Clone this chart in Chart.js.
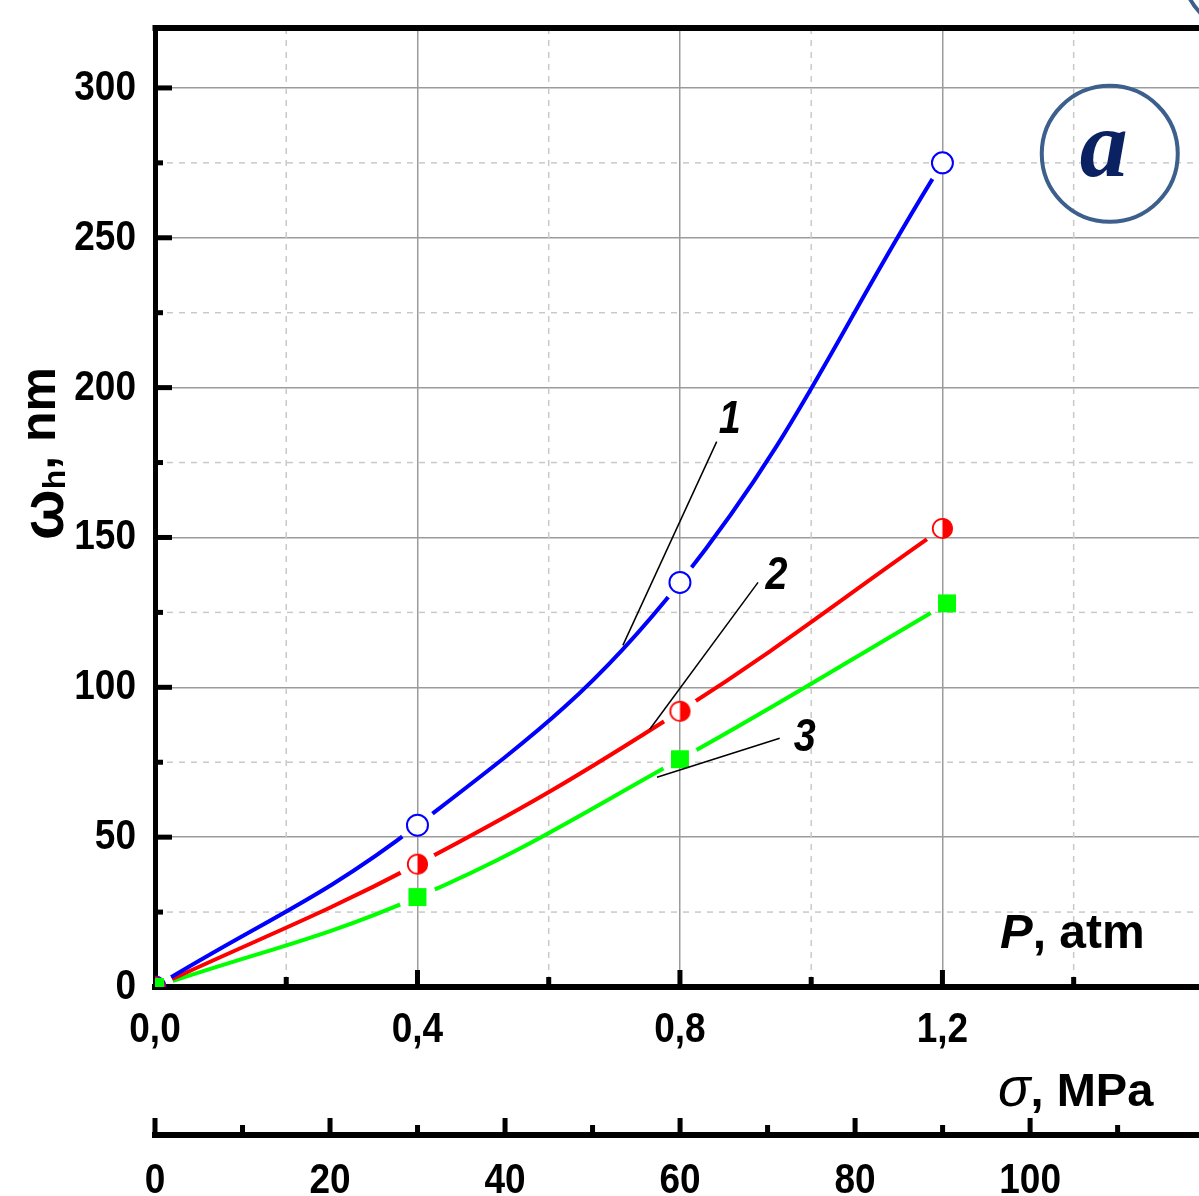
<!DOCTYPE html>
<html>
<head>
<meta charset="utf-8">
<script src="https://cdn.jsdelivr.net/npm/chart.js@4.4.1/dist/chart.umd.min.js"></script>
<style>
  html, body { margin: 0; padding: 0; background: #fff; overflow: hidden; }
  canvas { display: block; }
</style>
</head>
<body>
<canvas id="omegaChart" width="1199" height="1196"></canvas>
<script>
// measured points (sigma in MPa, omega_h in nm)
const sigma = [0, 0.4, 0.8, 1.2];
const sigmaSquares = [0, 0.4, 0.8, 1.207];
const omega1 = [0, 54, 135, 275];
const omega2 = [0, 41, 92, 153];
const omega3 = [0, 30, 76, 128];

// axis ranges and labelled ticks
const sigmaMax = 1.591;
const omegaMax = 320;
const pressureMax = 119.3;
const sigmaLabelled = [0, 0.4, 0.8, 1.2];
const omegaLabelled = [0, 50, 100, 150, 200, 250, 300];
const pressureLabelled = [0, 20, 40, 60, 80, 100];

const TEXT_FONT = "'Liberation Sans', Arial, sans-serif";
const NARROW = 0.86; // tick labels are a condensed face

const near = (list, v) => list.some(t => Math.abs(t - v) < 1e-6);
const onStep = (v, step) => Math.abs(v / step - Math.round(v / step)) < 1e-6;
const pts = (xs, ys) => xs.map((x, i) => ({ x: x, y: ys[i] }));

// half filled circle marker for curve 2
function halfDot(r, color) {
    const c = document.createElement('canvas');
    const s = Math.ceil(2 * r + 4);
    c.width = c.height = s;
    const g = c.getContext('2d');
    const m = s / 2;
    g.beginPath(); g.arc(m, m, r, 0, 2 * Math.PI); g.fillStyle = '#fff'; g.fill();
    g.beginPath(); g.arc(m, m, r, -Math.PI / 2, Math.PI / 2); g.closePath();
    g.fillStyle = color; g.fill();
    g.beginPath(); g.arc(m, m, r - 0.5, 0, 2 * Math.PI);
    g.lineWidth = 1.8; g.strokeStyle = color; g.stroke();
    return c;
}

const GAP = 19; // line stops short of each symbol

const markers1 = pts(sigma, omega1);
const markers2 = pts(sigma, omega2);
const markers3 = pts(sigmaSquares, omega3);

// leader lines from curve numbers to curves
const leaders = [
    { text: '1', from: [0.856, 182], to: [0.713, 114], at: [0.876, 189] },
    { text: '2', from: [0.919, 135], to: [0.754, 86], at: [0.947, 137] },
    { text: '3', from: [0.952, 83], to: [0.765, 70], at: [0.990, 83] }
];

const gapPlugin = {
    id: 'gapPlugin',
    beforeDatasetDraw(chart, args) {
        const ds = chart.data.datasets[args.index];
        if (!ds.gapPoints) return;
        const { ctx, scales } = chart;
        ctx.save();
        ctx.beginPath();
        ctx.rect(0, 0, chart.width, chart.height);
        ds.gapPoints.forEach(p => {
            const x = scales.x.getPixelForValue(p.x);
            const y = scales.y.getPixelForValue(p.y);
            ctx.moveTo(x + GAP, y);
            ctx.arc(x, y, GAP, 0, 2 * Math.PI);
        });
        ctx.clip('evenodd');
    },
    afterDatasetDraw(chart, args) {
        const ds = chart.data.datasets[args.index];
        if (ds.gapPoints) chart.ctx.restore();
    }
};

const inSigma = v => v > 0 && v < sigmaMax && onStep(v, 0.2);
const isMajorSigma = v => inSigma(v) && onStep(v, 0.4);
const inOmega = v => v > 0 && v < omegaMax && onStep(v, 25);

const decorPlugin = {
    id: 'decorPlugin',
    beforeDatasetsDraw(chart) {
        const { ctx, chartArea: a, scales } = chart;
        ctx.save();
        ctx.strokeStyle = '#c9c9c9';
        ctx.lineWidth = 1.5;
        ctx.setLineDash([6, 6]);
        scales.x.ticks.forEach(t => {
            if (!inSigma(t.value) || isMajorSigma(t.value)) return;
            const x = scales.x.getPixelForValue(t.value);
            ctx.beginPath(); ctx.moveTo(x, a.top); ctx.lineTo(x, a.bottom); ctx.stroke();
        });
        scales.y.ticks.forEach(t => {
            if (!inOmega(t.value) || onStep(t.value, 50)) return;
            const y = scales.y.getPixelForValue(t.value);
            ctx.beginPath(); ctx.moveTo(a.left, y); ctx.lineTo(a.right, y); ctx.stroke();
        });
        ctx.restore();
    },
    afterDatasetsDraw(chart) {
        const { ctx, scales } = chart;
        const px = v => scales.x.getPixelForValue(v);
        const py = v => scales.y.getPixelForValue(v);
        ctx.save();
        ctx.strokeStyle = '#000';
        ctx.lineWidth = 1.5;
        ctx.fillStyle = '#000';
        ctx.font = "italic bold 46px " + TEXT_FONT;
        ctx.textAlign = 'center';
        ctx.textBaseline = 'middle';
        leaders.forEach(l => {
            ctx.beginPath();
            ctx.moveTo(px(l.from[0]), py(l.from[1]));
            ctx.lineTo(px(l.to[0]), py(l.to[1]));
            ctx.stroke();
            ctx.save();
            ctx.translate(px(l.at[0]), py(l.at[1]));
            ctx.scale(NARROW, 1);
            ctx.fillText(l.text, 0, 0);
            ctx.restore();
        });
        ctx.restore();
    },
    afterDraw(chart) {
        const { ctx, chartArea: a, scales } = chart;
        const px = v => scales.x.getPixelForValue(v);
        const py = v => scales.y.getPixelForValue(v);
        const x2 = scales.x2;
        ctx.save();
        ctx.fillStyle = '#000';
        // top frame line
        ctx.fillRect(a.left - 2.5, a.top - 3, a.right - a.left + 3, 6);

        // inward tick marks
        scales.x.ticks.forEach(t => {
            if (!inSigma(t.value)) return;
            const len = isMajorSigma(t.value) ? 17 : 10;
            ctx.fillRect(px(t.value) - 2.5, a.bottom - len, 5, len);
        });
        scales.y.ticks.forEach(t => {
            if (!inOmega(t.value)) return;
            const len = onStep(t.value, 50) ? 17 : 8;
            ctx.fillRect(a.left, py(t.value) - 2.5, len, 5);
        });
        x2.ticks.forEach(t => {
            if (!onStep(t.value, 10) || t.value > pressureMax) return;
            const len = onStep(t.value, 20) ? 17 : 10;
            ctx.fillRect(x2.getPixelForValue(t.value) - 2.5, x2.top - len, 5, len);
        });

        // tick labels, condensed bold
        ctx.font = "bold 43px " + TEXT_FONT;
        ctx.textBaseline = 'alphabetic';
        const label = (text, x, y, align) => {
            ctx.save();
            ctx.translate(x, y);
            ctx.scale(NARROW, 1);
            ctx.textAlign = align;
            ctx.fillText(text, 0, 0);
            ctx.restore();
        };
        scales.x.ticks.forEach(t => {
            if (near(sigmaLabelled, t.value)) label(t.value.toFixed(1).replace('.', ','), px(t.value), a.bottom + 55, 'center');
        });
        scales.y.ticks.forEach(t => {
            if (near(omegaLabelled, t.value)) label(String(t.value), a.left - 19, py(t.value) + 12, 'right');
        });
        x2.ticks.forEach(t => {
            if (near(pressureLabelled, t.value)) label(String(t.value), x2.getPixelForValue(t.value), x2.top + 58, 'center');
        });

        // axis titles
        ctx.textAlign = 'left';
        let x = 1000;
        ctx.font = "italic bold 49px " + TEXT_FONT;
        ctx.fillText('P', x, 948);
        x += ctx.measureText('P').width;
        ctx.font = "bold 48px " + TEXT_FONT;
        ctx.fillText(', atm', x, 948);

        x = 998;
        ctx.font = "italic 54px " + TEXT_FONT;
        ctx.fillText('\u03c3', x, 1106);
        x += ctx.measureText('\u03c3').width;
        ctx.font = "bold 47px " + TEXT_FONT;
        ctx.fillText(', MPa', x, 1106);

        // y title, rotated
        ctx.save();
        ctx.translate(63, 540);
        ctx.rotate(-Math.PI / 2);
        let s = 0;
        ctx.font = "bold 60px " + TEXT_FONT;
        ctx.fillText('\u03c9', s, 0);
        s += ctx.measureText('\u03c9').width;
        ctx.font = "bold 32px " + TEXT_FONT;
        ctx.fillText('h', s, 2);
        s += ctx.measureText('h').width;
        ctx.font = "bold 50px " + TEXT_FONT;
        ctx.fillText(', nm', s, -8);
        ctx.restore();

        // panel letter
        const cx = px(1.455), cy = py(278);
        ctx.beginPath();
        ctx.arc(cx, cy, 68, 0, 2 * Math.PI);
        ctx.lineWidth = 4;
        ctx.strokeStyle = '#3d5f8c';
        ctx.stroke();
        ctx.beginPath();
        ctx.arc(1245, -30, 62, 0, 2 * Math.PI);
        ctx.stroke();
        ctx.fillStyle = '#0b2262';
        ctx.font = "italic bold 96px 'Liberation Serif', 'DejaVu Serif', serif";
        ctx.textAlign = 'center';
        ctx.fillText('a', cx - 6, cy + 22);
        ctx.restore();
    }
};

const noPad = s => { s.paddingLeft = 0; s.paddingRight = 0; s.paddingTop = 0; s.paddingBottom = 0; };

const ctx = document.getElementById('omegaChart').getContext('2d');
const omegaChart = new Chart(ctx, {
    type: 'line',
    data: {
        datasets: [
            {
                label: '3', data: markers3, showLine: false, order: 1, clip: 0,
                pointStyle: 'rect', pointRadius: 12.7, pointHoverRadius: 12.7,
                pointBackgroundColor: '#00ff00', pointBorderWidth: 0
            },
            {
                label: '2', data: markers2, showLine: false, order: 2, clip: 0,
                pointStyle: halfDot(10.2, '#ff0000'), pointRadius: 10, pointHoverRadius: 10
            },
            {
                label: '1', data: markers1, showLine: false, order: 3, clip: 0,
                pointStyle: 'circle', pointRadius: 10.5, pointHoverRadius: 10.5,
                pointBackgroundColor: '#ffffff', pointBorderColor: '#0000ff', pointBorderWidth: 2
            },
            {
                label: 'curve 1', data: markers1, gapPoints: markers1, order: 4,
                borderColor: '#0000ff', borderWidth: 4, pointRadius: 0, tension: 0.4, fill: false
            },
            {
                label: 'curve 2', data: markers2, gapPoints: markers2, order: 4,
                borderColor: '#ff0000', borderWidth: 4, pointRadius: 0, tension: 0.4, fill: false
            },
            {
                label: 'curve 3', data: markers3, gapPoints: markers3, order: 4,
                borderColor: '#00ff00', borderWidth: 4, pointRadius: 0, tension: 0.4, fill: false
            }
        ]
    },
    options: {
        responsive: false,
        animation: false,
        devicePixelRatio: 1,
        layout: { autoPadding: false, padding: { top: 28, left: 0, right: 0, bottom: 0 } },
        plugins: {
            legend: { display: false },
            tooltip: { enabled: false }
        },
        scales: {
            x: {
                type: 'linear',
                position: 'bottom',
                bounds: 'data',
                min: 0,
                max: sigmaMax,
                afterFit: s => { s.height = 148; noPad(s); },
                ticks: { stepSize: 0.2, includeBounds: false, autoSkip: false, display: false },
                grid: {
                    drawTicks: false,
                    lineWidth: 1.5,
                    color: c => (c.tick && isMajorSigma(c.tick.value)) ? '#9b9b9b' : 'rgba(0,0,0,0)'
                },
                border: { display: true, color: '#000', width: 6 }
            },
            x2: {
                type: 'linear',
                position: 'bottom',
                bounds: 'data',
                min: 0,
                max: pressureMax,
                afterFit: s => { s.height = 61; noPad(s); },
                ticks: { stepSize: 10, includeBounds: false, autoSkip: false, display: false },
                grid: { display: false, drawTicks: false },
                border: { display: true, color: '#000', width: 6 }
            },
            y: {
                type: 'linear',
                position: 'left',
                bounds: 'data',
                min: 0,
                max: omegaMax,
                afterFit: s => { s.width = 155; noPad(s); },
                ticks: { stepSize: 25, includeBounds: false, autoSkip: false, display: false },
                grid: {
                    drawTicks: false,
                    lineWidth: 1.5,
                    color: c => (c.tick && inOmega(c.tick.value) && onStep(c.tick.value, 50)) ? '#9b9b9b' : 'rgba(0,0,0,0)'
                },
                border: { display: true, color: '#000', width: 5 }
            }
        }
    },
    plugins: [gapPlugin, decorPlugin]
});
</script>
</body>
</html>
